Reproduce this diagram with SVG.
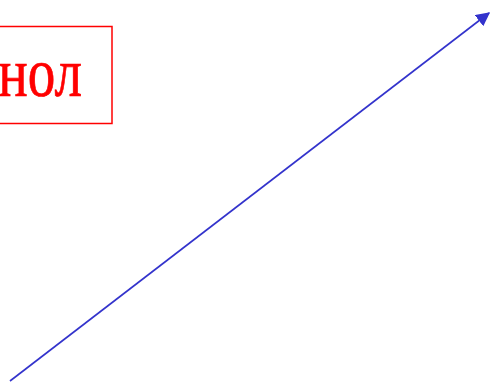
<svg xmlns="http://www.w3.org/2000/svg" width="500" height="389" viewBox="0 0 500 389">
<style>
.box{fill:#fff;stroke:#ff0000;stroke-width:1.5}
.lbl{font-family:"Liberation Serif",serif;font-size:58px;fill:#ff0000;stroke:#ff0000;stroke-width:0.6}
.edge{stroke:#3333cc;stroke-width:1.6;fill:none}
</style>
<defs>
<marker id="ah" viewBox="0 0 10 10" refX="9" refY="5" markerWidth="14" markerHeight="14" markerUnits="userSpaceOnUse" orient="auto">
<path d="M0,0 L10,5 L0,10 z" fill="#3333cc"/>
</marker>
</defs>
<g id="node1">
<rect class="box" x="-20" y="26.5" width="132" height="97"/>
<text class="lbl" transform="translate(82,96) scale(0.95,1.2)" x="0" y="0" text-anchor="end">нол</text>
</g>
<g id="connectors">
<path class="edge" d="M10,381 L489,13" marker-end="url(#ah)"/>
</g>
</svg>
